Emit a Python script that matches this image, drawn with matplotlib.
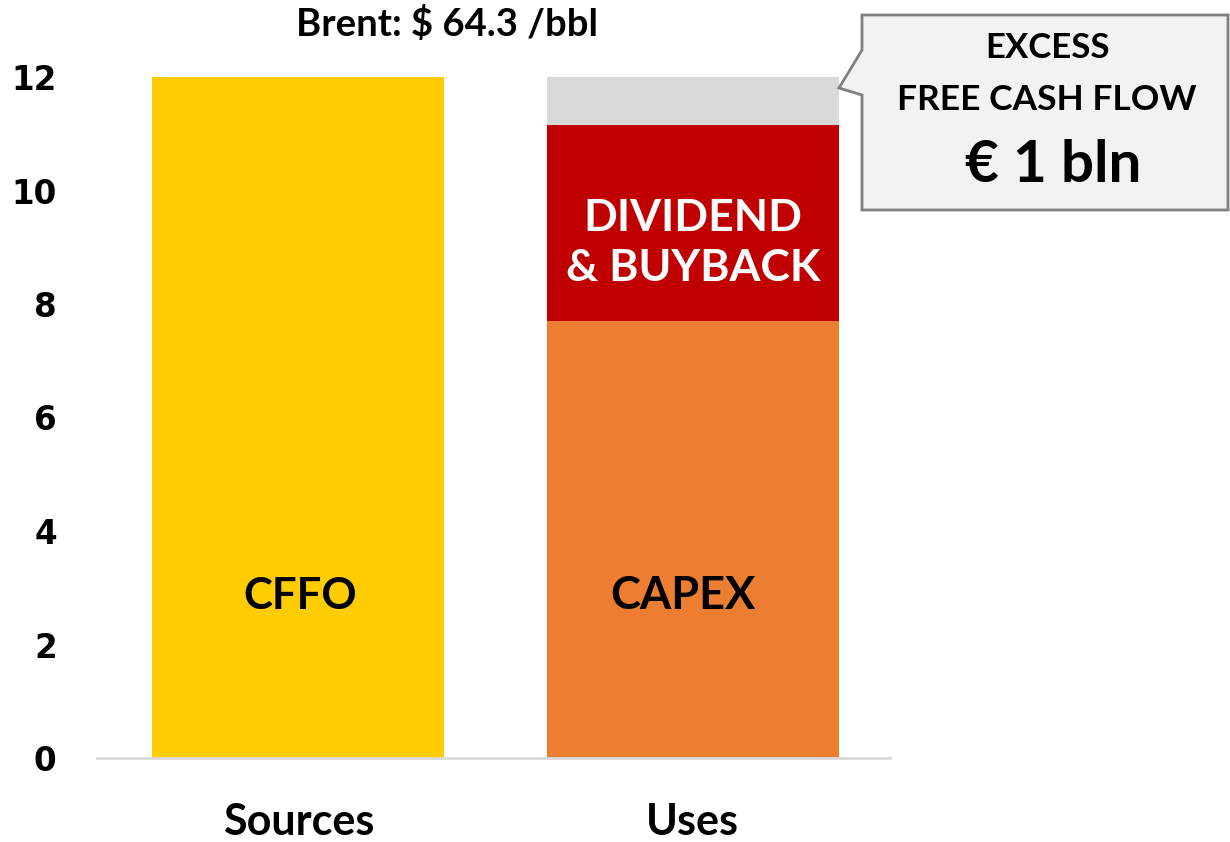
import matplotlib
matplotlib.use("Agg")
import matplotlib.pyplot as plt
from matplotlib.patches import Polygon

# Cash sources and uses (EUR bln)
categories = ["Sources", "Uses"]
cffo = [12.0, 0.0]
capex = [0.0, 7.7]
dividend_buyback = [0.0, 3.45]
excess_fcf = [0.0, 0.85]
yticks = [0, 2, 4, 6, 8, 10, 12]
brent_price = 64.3

COND = ["Lato", "DejaVu Sans"]
W, H = 1230, 842
fig = plt.figure(figsize=(W / 100, H / 100), dpi=100)


def fx(px):
    return px / W


def fy(py):
    return 1 - py / H


ax = fig.add_axes([fx(97), fy(758), fx(890) - fx(97), fy(77) - fy(758)])

x = list(range(len(categories)))
bw = 0.74
ax.bar(x, cffo, width=bw, color="#FFCC00")
ax.bar(x, capex, width=bw, color="#ED7D31")
bottom2 = [a + b for a, b in zip(cffo, capex)]
ax.bar(x, dividend_buyback, width=bw, bottom=bottom2, color="#C00000")
bottom3 = [a + b for a, b in zip(bottom2, dividend_buyback)]
ax.bar(x, excess_fcf, width=bw, bottom=bottom3, color="#D9D9D9")

ax.set_xlim(-0.51, 1.5)
ax.set_ylim(0, 12)
ax.set_yticks(yticks)
ax.set_yticklabels([str(t) for t in yticks], fontsize=23.5, fontweight="bold",
                   family="DejaVu Sans")
ax.set_xticks(x)
ax.set_xticklabels(categories, fontsize=31, fontweight="bold", family=COND)
ax.tick_params(axis="y", length=0, pad=29)
ax.tick_params(axis="x", length=0, pad=32)
for s in ["top", "right", "left"]:
    ax.spines[s].set_visible(False)
ax.spines["bottom"].set_color("#D9D9D9")
ax.spines["bottom"].set_linewidth(2)

# Segment labels
label_y = 2.85
ax.text(x[0] + 0.005, label_y, "CFFO", ha="center", va="center",
        fontsize=31.5, fontweight="bold", family=COND, color="black")
ax.text(x[1] - 0.025, label_y, "CAPEX", ha="center", va="center",
        fontsize=32.5, fontweight="bold", family=COND, color="black")
ax.text(x[1], bottom2[1] + dividend_buyback[1] / 2 - 0.35,
        "DIVIDEND\n& BUYBACK", ha="center", va="center", fontsize=32,
        fontweight="bold", family=COND, color="white", linespacing=1.32)

# Oil price header
fig.text(fx(447), fy(24), f"Brent: $ {brent_price} /bbl", ha="center",
         va="center", fontsize=27.5, fontweight="bold", family=COND)

# Callout for excess free cash flow
pts = [(862, 15), (1228, 15), (1228, 210), (862, 210), (862, 95),
       (839, 88), (862, 50)]
callout = Polygon([(fx(a), fy(b)) for a, b in pts], closed=True,
                  transform=fig.transFigure, facecolor="#F2F2F2",
                  edgecolor="#7F7F7F", linewidth=2)
fig.patches.append(callout)
fig.text(fx(1048), fy(48), "EXCESS", ha="center", va="center",
         fontsize=25, fontweight="bold", family=COND)
fig.text(fx(1047), fy(100), "FREE CASH FLOW", ha="center", va="center",
         fontsize=25.5, fontweight="bold", family=COND)
fig.text(fx(1053), fy(165), f"€ {excess_fcf[1]:.0f} bln", ha="center",
         va="center", fontsize=42, fontweight="bold", family=COND)

fig.savefig("out.png", dpi=100)
